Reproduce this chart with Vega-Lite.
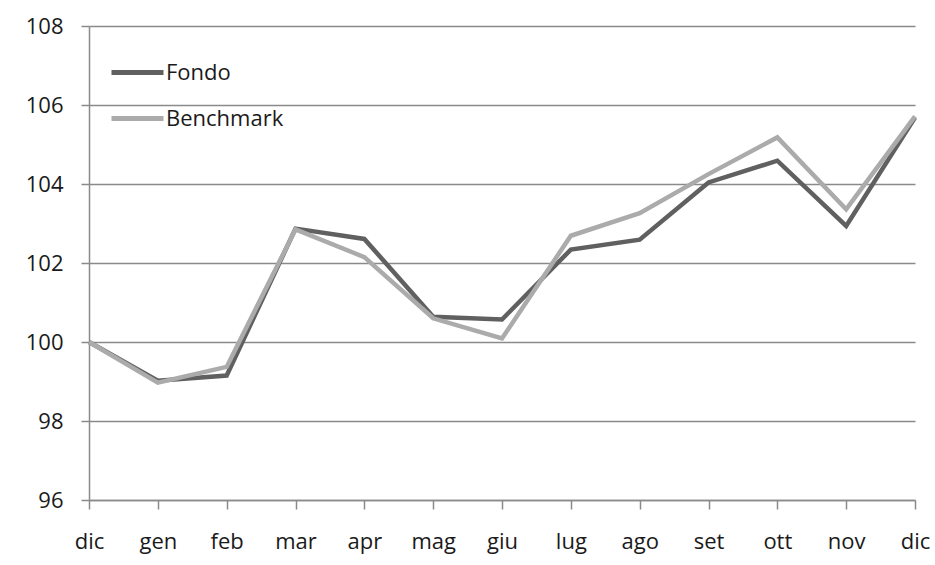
{
  "$schema": "https://vega.github.io/schema/vega-lite/v6.json",
  "width": 826,
  "height": 474,
  "autosize": {"type": "none"},
  "padding": {"left": 89, "top": 26, "right": 20, "bottom": 65},
  "background": "white",
  "config": {
    "view": {"stroke": null},
    "font": "Open Sans",
    "axis": {"labelFont": "Open Sans", "labelFontSize": 22, "labelColor": "#1a1a1a", "domainColor": "#8a8a8a", "tickColor": "#8a8a8a", "gridColor": "#8a8a8a", "domainWidth": 1.5, "tickWidth": 1.5, "gridWidth": 1.5, "tickSize": 8}
  },
  "data": {"values": [
    {"mese": "dic|0", "serie": "Fondo", "valore": 100.0},
    {"mese": "gen", "serie": "Fondo", "valore": 99.02},
    {"mese": "feb", "serie": "Fondo", "valore": 99.15},
    {"mese": "mar", "serie": "Fondo", "valore": 102.87},
    {"mese": "apr", "serie": "Fondo", "valore": 102.61},
    {"mese": "mag", "serie": "Fondo", "valore": 100.64},
    {"mese": "giu", "serie": "Fondo", "valore": 100.57},
    {"mese": "lug", "serie": "Fondo", "valore": 102.34},
    {"mese": "ago", "serie": "Fondo", "valore": 102.59},
    {"mese": "set", "serie": "Fondo", "valore": 104.04},
    {"mese": "ott", "serie": "Fondo", "valore": 104.59},
    {"mese": "nov", "serie": "Fondo", "valore": 102.94},
    {"mese": "dic|1", "serie": "Fondo", "valore": 105.68},
    {"mese": "dic|0", "serie": "Benchmark", "valore": 100.0},
    {"mese": "gen", "serie": "Benchmark", "valore": 98.97},
    {"mese": "feb", "serie": "Benchmark", "valore": 99.37},
    {"mese": "mar", "serie": "Benchmark", "valore": 102.85},
    {"mese": "apr", "serie": "Benchmark", "valore": 102.15},
    {"mese": "mag", "serie": "Benchmark", "valore": 100.6},
    {"mese": "giu", "serie": "Benchmark", "valore": 100.09},
    {"mese": "lug", "serie": "Benchmark", "valore": 102.69},
    {"mese": "ago", "serie": "Benchmark", "valore": 103.26},
    {"mese": "set", "serie": "Benchmark", "valore": 104.25},
    {"mese": "ott", "serie": "Benchmark", "valore": 105.18},
    {"mese": "nov", "serie": "Benchmark", "valore": 103.36},
    {"mese": "dic|1", "serie": "Benchmark", "valore": 105.71}
  ]},
  "encoding": {
    "x": {
      "field": "mese", "type": "ordinal",
      "sort": ["dic|0", "gen", "feb", "mar", "apr", "mag", "giu", "lug", "ago", "set", "ott", "nov", "dic|1"],
      "scale": {"type": "point", "padding": 0},
      "axis": {"title": null, "labelAngle": 0, "labelPadding": 22, "labelExpr": "split(datum.value, '|')[0]", "grid": false, "tickSize": 9}
    },
    "y": {
      "field": "valore", "type": "quantitative",
      "scale": {"domain": [96, 108], "nice": false, "zero": false},
      "axis": {"title": null, "values": [96, 98, 100, 102, 104, 106, 108], "grid": true, "labelPadding": 18}
    },
    "color": {
      "field": "serie", "type": "nominal",
      "scale": {"domain": ["Fondo", "Benchmark"], "range": ["#606060", "#ababab"]},
      "legend": {
        "title": null, "orient": "none", "legendX": 20, "legendY": 18,
        "symbolType": "stroke", "symbolStrokeWidth": 5, "symbolSize": 2704,
        "labelFont": "Open Sans", "labelFontSize": 22, "labelColor": "#1a1a1a",
        "labelOffset": 0, "rowPadding": 6
      }
    }
  },
  "layer": [
    {"transform": [{"filter": "datum.serie === 'Fondo'"}], "mark": {"type": "line", "strokeWidth": 4.5, "strokeJoin": "miter"}},
    {"transform": [{"filter": "datum.serie === 'Benchmark'"}], "mark": {"type": "line", "strokeWidth": 4.5, "strokeJoin": "miter"}}
  ]
}
